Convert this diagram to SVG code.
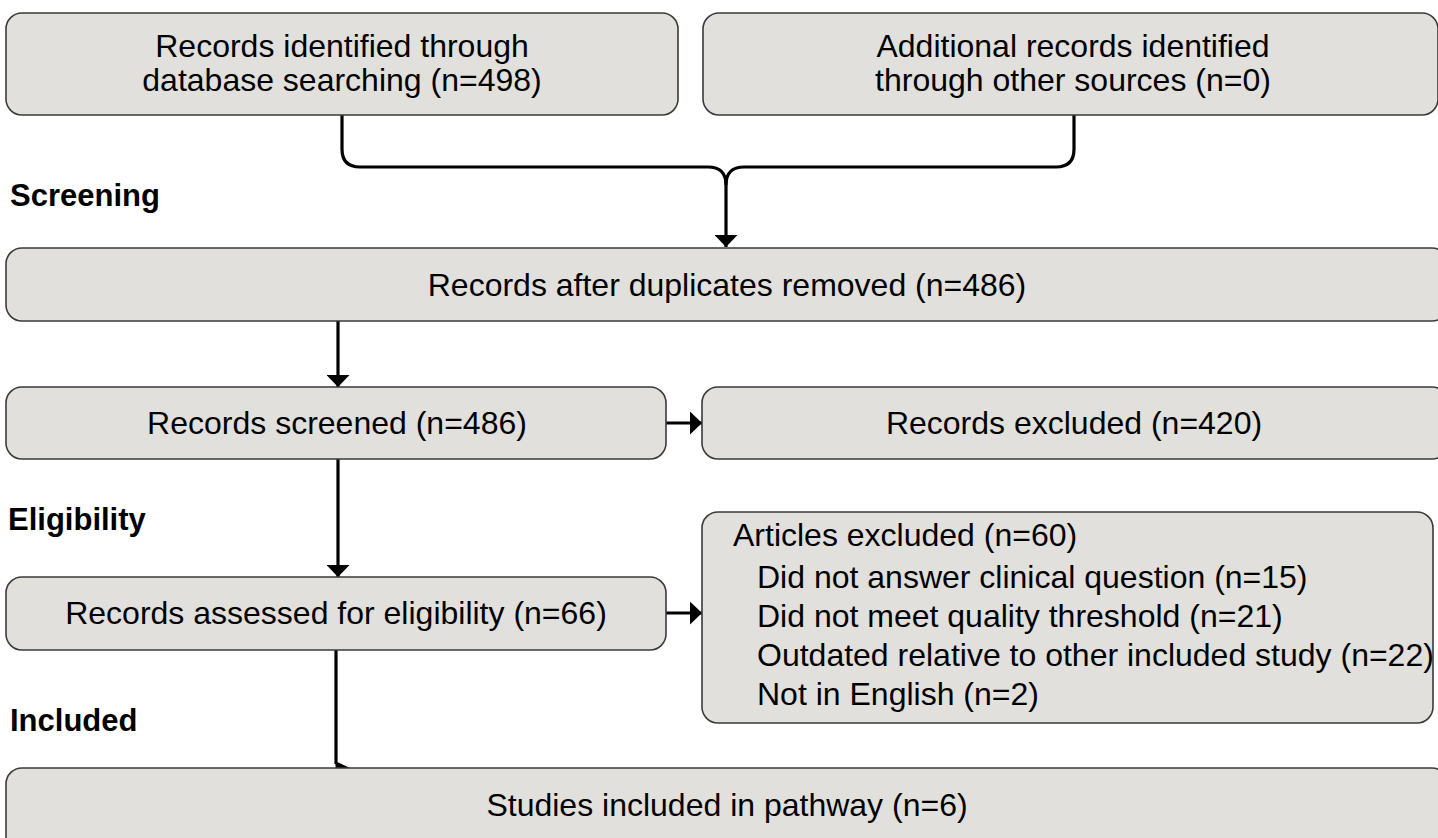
<svg xmlns="http://www.w3.org/2000/svg" width="1438" height="838" viewBox="0 0 1438 838">
<style>
.box{fill:#e1e0dc;stroke:#3a3a3a;stroke-width:1.6}
.t{font-family:"Liberation Sans",Arial,sans-serif;font-size:32px;fill:#000}
.c{text-anchor:middle}
.lbl{font-family:"Liberation Sans",Arial,sans-serif;font-size:31px;font-weight:bold;fill:#000}
.ln{fill:none;stroke:#000;stroke-width:3.2}
</style>
<defs>
<marker id="ah" viewBox="0 0 12 23" refX="12" refY="11.5" markerWidth="12" markerHeight="23" markerUnits="userSpaceOnUse" orient="auto"><path d="M0,0 L12,11.5 L0,23 z" fill="#000"/></marker>
</defs>
<rect width="1438" height="838" fill="#fff"/>
<g id="labels">
<text class="lbl" x="10" y="206">Screening</text>
<text class="lbl" x="8" y="530">Eligibility</text>
<text class="lbl" x="10" y="731">Included</text>
</g>
<g id="connectors">
<path class="ln" d="M342,115 V149 Q342,167 360,167 H708 Q726,167 726,185 V247" marker-end="url(#ah)"/>
<path class="ln" d="M1074,115 V149 Q1074,167 1056,167 H744 Q726,167 726,185"/>
<path class="ln" d="M338,321 V387" marker-end="url(#ah)"/>
<path class="ln" d="M666,423 H702" marker-end="url(#ah)"/>
<path class="ln" d="M338,459 V577" marker-end="url(#ah)"/>
<path class="ln" d="M666,613 H702" marker-end="url(#ah)"/>
<path class="ln" d="M336,650 V764"/>
<path d="M335,761 L350,768 L337,780 z" fill="#000"/>
</g>
<g id="n1"><rect class="box" x="6" y="13" width="672" height="102" rx="16"/>
<text class="t c" x="342" y="57">Records identified through</text>
<text class="t c" x="342" y="91">database searching (n=498)</text></g>
<g id="n2"><rect class="box" x="703" y="13" width="735" height="102" rx="16"/>
<text class="t c" x="1073" y="57">Additional records identified</text>
<text class="t c" x="1073" y="91">through other sources (n=0)</text></g>
<g id="n3"><rect class="box" x="6" y="248" width="1442" height="73" rx="16"/>
<text class="t c" x="727" y="296">Records after duplicates removed (n=486)</text></g>
<g id="n4"><rect class="box" x="6" y="387" width="660" height="72" rx="16"/>
<text class="t c" x="337" y="434">Records screened (n=486)</text></g>
<g id="n5"><rect class="box" x="702" y="387" width="746" height="72" rx="16"/>
<text class="t c" x="1074" y="434">Records excluded (n=420)</text></g>
<g id="n6"><rect class="box" x="6" y="577" width="660" height="73" rx="16"/>
<text class="t c" x="336" y="624">Records assessed for eligibility (n=66)</text></g>
<g id="n7"><rect class="box" x="702" y="512" width="731" height="211" rx="16"/>
<text class="t" x="733" y="546">Articles excluded (n=60)</text>
<text class="t" x="757" y="588">Did not answer clinical question (n=15)</text>
<text class="t" x="757" y="627">Did not meet quality threshold (n=21)</text>
<text class="t" x="757" y="666">Outdated relative to other included study (n=22)</text>
<text class="t" x="757" y="705">Not in English (n=2)</text></g>
<g id="n8"><rect class="box" x="6" y="768" width="1442" height="90" rx="16"/>
<text class="t c" x="727" y="816">Studies included in pathway (n=6)</text></g>
</svg>
